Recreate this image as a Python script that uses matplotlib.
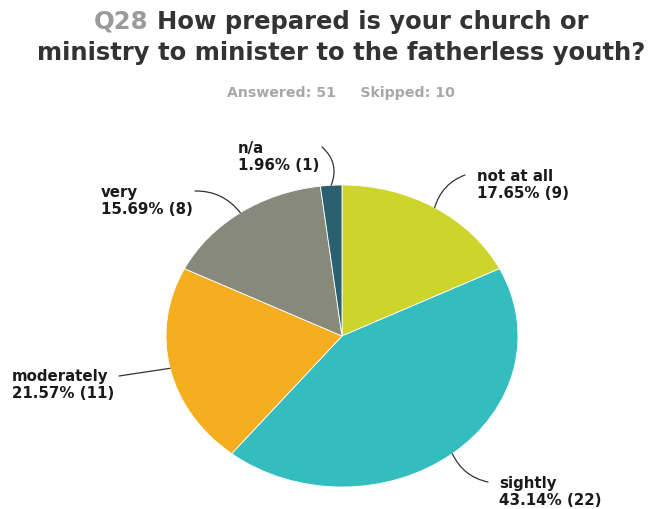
import numpy as np
import matplotlib
matplotlib.use('Agg')
from matplotlib import pyplot as plt

answers = ['not at all', 'sightly', 'moderately', 'very', 'n/a']
counts = [9, 22, 11, 8, 1]
colors = ['#CDD42B', '#33BDBF', '#F4AE1F', '#878A7B', '#2B6070']
answered = 51
skipped = 10

# where each label sits (pixels from top-left) and where its leader line starts
label_pos = [(477, 185), (499, 492), (12, 385), (101, 201), (238, 157)]
line_start = [(465, 176), (488, 483), (119, 377), (195, 192), (322, 148)]
line_rad = [0.25, -0.25, 0.0, -0.25, -0.35]

W, H = 649, 510
fig = plt.figure(figsize=(W / 100, H / 100), dpi=100)
fig.patch.set_facecolor('white')

ax = fig.add_axes([0, 0, 1, 1])
wedges, _ = ax.pie(counts, colors=colors, startangle=90, counterclock=False,
                   wedgeprops=dict(edgecolor='white', linewidth=0.6))
# pie is a bit wider than tall
cx, cy, rx, ry = 342, 337, 176, 151
ax.set_aspect('auto')
ax.set_xlim(-cx / rx, (W - cx) / rx)
ax.set_ylim(-(H - cy) / ry, cy / ry)
ax.axis('off')

total = sum(counts)
for i, w in enumerate(wedges):
    mid = np.deg2rad((w.theta1 + w.theta2) / 2)
    px, py = label_pos[i]
    txt = '%s\n%.2f%% (%d)' % (answers[i], counts[i] / total * 100, counts[i])
    fig.text(px / W, 1 - py / H, txt, fontsize=10.8, fontweight='bold',
             color='#1a1a1a', va='center', ha='left', linespacing=1.1)
    sx, sy = line_start[i]
    ax.annotate('', xy=(np.cos(mid), np.sin(mid)), xycoords='data',
                xytext=(sx, H - sy), textcoords='figure pixels',
                arrowprops=dict(arrowstyle='-', color='#333333', lw=0.9,
                                shrinkA=0, shrinkB=0,
                                connectionstyle='arc3,rad=%.2f' % line_rad[i]))

# title: "Q28" in grey, the question in dark grey
line1 = 'Q28 How prepared is your church or'
tfs = 17.5
tx = 341 / W
probe = fig.text(tx, 1 - 22 / H, line1, fontsize=tfs, fontweight='bold',
                 ha='center', va='center', alpha=0)
fig.canvas.draw()
bb = probe.get_window_extent()
fig.text(bb.x0 / W, 1 - 22 / H, 'Q28', fontsize=tfs, fontweight='bold',
         color='#9a9a9a', ha='left', va='center')
fig.text(bb.x1 / W, 1 - 22 / H, 'How prepared is your church or', fontsize=tfs,
         fontweight='bold', color='#333333', ha='right', va='center')
fig.text(tx, 1 - 53 / H, 'ministry to minister to the fatherless youth?',
         fontsize=tfs, fontweight='bold', color='#333333', ha='center', va='center')
fig.text(tx, 1 - 93 / H, 'Answered: %d     Skipped: %d' % (answered, skipped),
         fontsize=10.2, fontweight='bold', color='#a8a8a8', ha='center', va='center')

fig.savefig('out.png', dpi=100)
